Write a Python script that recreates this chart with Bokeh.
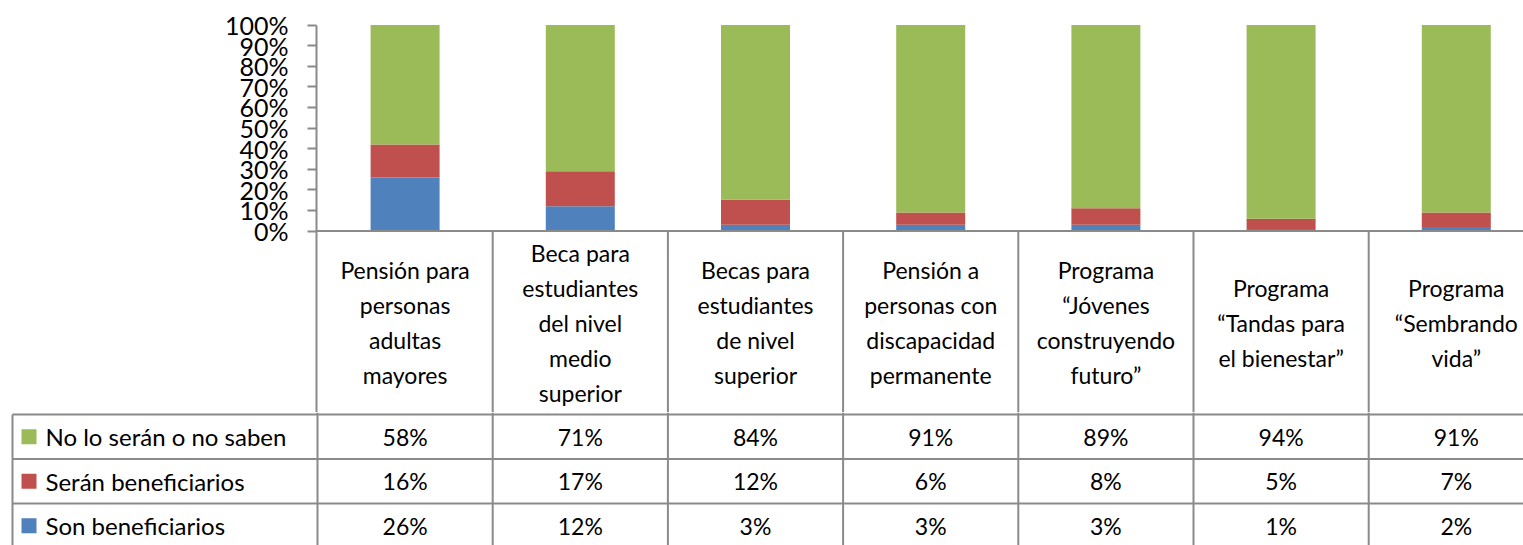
from bokeh.plotting import figure
from bokeh.models import Range1d, FixedTicker, PrintfTickFormatter, Span, ColumnDataSource
from bokeh.layouts import column
from bokeh.core.properties import value
from bokeh.embed import file_html
from bokeh.resources import INLINE

# ---------------- data ----------------
categories = [
    "Pensión para\npersonas\nadultas\nmayores",
    "Beca para\nestudiantes\ndel nivel\nmedio\nsuperior",
    "Becas para\nestudiantes\nde nivel\nsuperior",
    "Pensión a\npersonas con\ndiscapacidad\npermanente",
    "Programa\n“Jóvenes\nconstruyendo\nfuturo”",
    "Programa\n“Tandas para\nel bienestar”",
    "Programa\n“Sembrando\nvida”",
]
series_names = ["No lo serán o no saben", "Serán beneficiarios", "Son beneficiarios"]
no_lo_seran = [58, 71, 84, 91, 89, 94, 91]
seran = [16, 17, 12, 6, 8, 5, 7]
son = [26, 12, 3, 3, 3, 1, 2]
y_ticks = [0, 10, 20, 30, 40, 50, 60, 70, 80, 90, 100]
series_colors = ["#9BBB59", "#C0504D", "#4F81BD"]

# ---------------- layout constants ----------------
FONT = value("Lato")
GRID = "#8a8a8a"
COL_PX = 175.2            # width of one category column in px
PX_PER_PCT = 2.06
PAGE_W = 1523
TOP_H = 412
BOT_H = 133
ROW_PX = 44.5

n = len(categories)
xs = [i + 0.5 for i in range(n)]
totals = [a + b + c for a, b, c in zip(no_lo_seran, seran, son)]
share_son = [v / t * 100 for v, t in zip(son, totals)]
share_seran = [v / t * 100 for v, t in zip(seran, totals)]
share_no = [v / t * 100 for v, t in zip(no_lo_seran, totals)]

# ---------------- top figure: stacked bars + header row ----------------
y_top = 100 + 24.5 / PX_PER_PCT
y_bot = -(412 - 230.5) / PX_PER_PCT
x_end = (PAGE_W - 317) / COL_PX

top = figure(width=PAGE_W, height=TOP_H, output_backend="svg", toolbar_location=None,
             x_range=Range1d(-1 / COL_PX, x_end), y_range=Range1d(y_bot, y_top),
             min_border_left=316, min_border_right=0, min_border_top=0, min_border_bottom=0,
             x_axis_location=None)
top.outline_line_color = None
top.grid.visible = False

ya = top.yaxis[0]
ya.ticker = FixedTicker(ticks=y_ticks)
ya.formatter = PrintfTickFormatter(format="%d%%")
ya.bounds = (y_bot, 100)
ya.axis_line_color = GRID
ya.axis_line_width = 2
ya.major_tick_line_color = GRID
ya.major_tick_line_width = 2
ya.major_tick_out = 9
ya.major_tick_in = 0
ya.minor_tick_line_color = None
ya.major_label_text_font = "Lato"
ya.major_label_text_font_size = "25px"
ya.major_label_text_color = "black"
ya.major_label_standoff = 19

src = ColumnDataSource(dict(x=xs, son=share_son, seran=share_seran, no=share_no))
top.vbar_stack(["son", "seran", "no"], x="x", width=69 / COL_PX, source=src,
               color=[series_colors[2], series_colors[1], series_colors[0]], line_color=None)

top.add_layout(Span(location=0, dimension="width", line_color=GRID, line_width=2))
top.segment(x0=list(range(1, n)), y0=[0] * (n - 1), x1=list(range(1, n)), y1=[y_bot] * (n - 1),
            line_color=GRID, line_width=2)

hdr_y = -(414 - 230.5) / 2 / PX_PER_PCT
top.text(x=xs, y=[hdr_y] * n, text=categories, text_align="center", text_baseline="middle",
         text_font=FONT, text_font_size="23px", text_line_height=1.25, text_color="black")

# ---------------- bottom figure: data table ----------------
bx_start = -317 / COL_PX
by_top = (414 - 412) / ROW_PX
by_bot = -(545 - 414) / ROW_PX
left_x = (12 - 317) / COL_PX

bot = figure(width=PAGE_W, height=BOT_H, output_backend="svg", toolbar_location=None,
             x_range=Range1d(bx_start, x_end), y_range=Range1d(by_bot, by_top),
             min_border_left=0, min_border_right=0, min_border_top=0, min_border_bottom=0,
             x_axis_location=None, y_axis_location=None)
bot.outline_line_color = None
bot.grid.visible = False

for fig in (top, bot):
    if "frame_align" in fig.properties():
        fig.frame_align = False

rows = len(series_names)
bot.segment(x0=[left_x] * rows, y0=[-r for r in range(rows)], x1=[x_end] * rows,
            y1=[-r for r in range(rows)], line_color=GRID, line_width=2)
bot.segment(x0=[left_x], y0=[0], x1=[left_x], y1=[by_bot], line_color=GRID, line_width=2)
bot.segment(x0=list(range(n)), y0=[by_top] * n, x1=list(range(n)), y1=[by_bot] * n,
            line_color=GRID, line_width=2)

row_y = [-r - 0.5 for r in range(rows)]
bot.scatter(x=[(28.5 - 317) / COL_PX] * rows, y=row_y, marker="square", size=15,
            color=series_colors, line_color=None)
bot.text(x=[(45 - 317) / COL_PX] * rows, y=row_y, text=series_names, text_align="left",
         text_baseline="middle", text_font=FONT, text_font_size="24px", text_color="black")

for r, vals in enumerate([no_lo_seran, seran, son]):
    bot.text(x=xs, y=[row_y[r]] * n, text=[f"{v}%" for v in vals], text_align="center",
             text_baseline="middle", text_font=FONT, text_font_size="23px", text_color="black")

layout = column(top, bot, spacing=0)
open("out.html", "w").write(file_html(layout, INLINE))
